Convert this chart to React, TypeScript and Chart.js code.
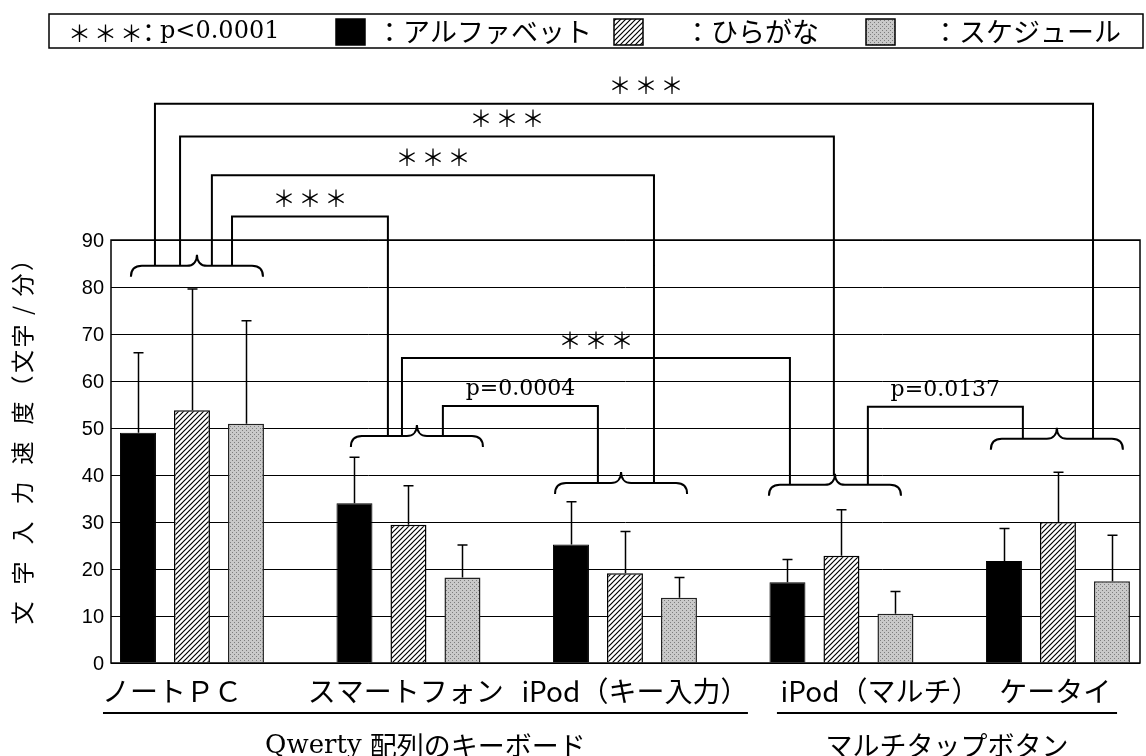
import React, { useEffect, useRef } from "react";
import { Chart, registerables } from "chart.js";

Chart.register(...registerables);

// ---------- data ----------
const categories = ["ノートＰＣ", "スマートフォン", "iPod（キー入力）", "iPod（マルチ）", "ケータイ"];
const seriesNames = ["アルファベット", "ひらがな", "スケジュール"];
const alphabetMeans = [49.0, 34.0, 25.2, 17.2, 21.7];
const hiraganaMeans = [53.8, 29.4, 19.1, 22.8, 30.0];
const scheduleMeans = [50.9, 18.2, 13.9, 10.5, 17.4];
const alphabetSD = [17.0, 9.8, 9.1, 4.8, 6.9];
const hiraganaSD = [25.8, 8.3, 8.9, 9.8, 10.6];
const scheduleSD = [21.9, 6.9, 4.3, 4.7, 9.8];
const yTicks = [0, 10, 20, 30, 40, 50, 60, 70, 80, 90];
const yTitleMain = ["文", "字", "入", "力", "速", "度"];
const yTitleUnit = ["（", "文", "字", "/", "分", "）"];
const groupLabels = ["Qwerty", "配列のキーボード", "マルチタップボタン"];
const legendStars = "＊＊＊";
const legendP = "p<0.0001";

// significance braces (category units / value units)
const braceCenters = [0.023, 1.039, 1.982, 2.97, 3.995];
const braceLevels = [84.5, 48.3, 38.3, 37.9, 47.7];
// comparison brackets
const cmpFromGroup = [0, 0, 0, 0, 1, 1, 3];
const cmpToGroup = [4, 3, 2, 1, 3, 2, 4];
const cmpFromX = [-0.171, -0.055, 0.092, 0.185, 0.97, 1.159, 3.122];
const cmpToX = [4.162, 2.965, 2.134, 0.905, 2.762, 1.875, 3.838];
const cmpTop = [119.0, 112.0, 103.8, 95.0, 64.9, 54.7, 54.5];
const cmpLabels = ["＊＊＊", "＊＊＊", "＊＊＊", "＊＊＊", "＊＊＊", "p=0.0004", "p=0.0137"];
const cmpLabelX = [2.097, null, null, null, null, null, null];

const CJK = "'Noto Sans CJK JP', 'Noto Sans', sans-serif";
const SERIF = "'DejaVu Serif', 'Liberation Serif', serif";

function makeHatch(): CanvasPattern {
  const c = document.createElement("canvas");
  c.width = 5;
  c.height = 5;
  const g = c.getContext("2d")!;
  g.fillStyle = "#fff";
  g.fillRect(0, 0, 5, 5);
  g.strokeStyle = "#000";
  g.lineWidth = 1.2;
  g.beginPath();
  g.moveTo(-1, 6);
  g.lineTo(6, -1);
  g.moveTo(-1, 1);
  g.lineTo(1, -1);
  g.moveTo(4, 6);
  g.lineTo(6, 4);
  g.stroke();
  return g.createPattern(c, "repeat")!;
}

function makeDots(): CanvasPattern {
  const c = document.createElement("canvas");
  c.width = 4;
  c.height = 4;
  const g = c.getContext("2d")!;
  g.fillStyle = "#c9c9c9";
  g.fillRect(0, 0, 4, 4);
  g.fillStyle = "#7d7d7d";
  g.fillRect(0, 0, 1, 1);
  g.fillRect(2, 2, 1, 1);
  return g.createPattern(c, "repeat")!;
}

export default function App() {
  const ref = useRef<HTMLCanvasElement | null>(null);

  useEffect(() => {
    const canvas = ref.current;
    if (!canvas) return;
    const hatch = makeHatch();
    const dots = makeDots();
    const sds = [alphabetSD, hiraganaSD, scheduleSD];

    const annot = {
      id: "annot",
      afterDraw(chart: any) {
        const ctx: any = chart.ctx;
        const xs = chart.scales.x;
        const ys = chart.scales.y;
        const area = chart.chartArea;
        ctx.save();

        const spaced = (txt: string, x: number, y: number, ls: number) => {
          ctx.letterSpacing = `${ls}px`;
          ctx.fillText(txt, x, y);
          ctx.letterSpacing = "0px";
        };

        // error bars
        ctx.strokeStyle = "#000";
        ctx.lineWidth = 1.5;
        chart.data.datasets.forEach((ds: any, di: number) => {
          const meta = chart.getDatasetMeta(di);
          meta.data.forEach((bar: any, i: number) => {
            const x = Math.round(bar.x) + 0.5;
            const y0 = ys.getPixelForValue(ds.data[i].y);
            const y1 = ys.getPixelForValue(ds.data[i].y + sds[di][i]);
            ctx.beginPath();
            ctx.moveTo(x, y0);
            ctx.lineTo(x, y1);
            ctx.moveTo(x - 5, y1);
            ctx.lineTo(x + 5, y1);
            ctx.stroke();
          });
        });

        // plot border
        ctx.lineWidth = 1.5;
        ctx.strokeRect(area.left, area.top, area.right - area.left, area.bottom - area.top);

        // y tick labels
        ctx.fillStyle = "#000";
        ctx.font = `20px 'Liberation Sans', Arial, sans-serif`;
        ctx.textAlign = "right";
        ctx.textBaseline = "middle";
        yTicks.forEach((v) => ctx.fillText(String(v), area.left - 7, ys.getPixelForValue(v) + 1));

        // y title
        ctx.font = `23px ${CJK}`;
        ctx.textAlign = "center";
        const yBase = ys.getPixelForValue(0) - 50;
        const drawRot = (ch: string, y: number) => {
          ctx.save();
          ctx.translate(22, y);
          ctx.rotate(-Math.PI / 2);
          ctx.fillText(ch, 0, 0);
          ctx.restore();
        };
        yTitleMain.forEach((ch, i) => drawRot(ch, yBase - i * 40));
        yTitleUnit.forEach((ch, i) => drawRot(ch, yBase - 226 - i * 25.5));

        // braces
        const TIPW = 10, TIPH = 11, CURL = 11;
        const braceHalf = 0.305;
        ctx.lineWidth = 2;
        braceCenters.forEach((c, gi) => {
          const L = xs.getPixelForValue(c - braceHalf);
          const R = xs.getPixelForValue(c + braceHalf);
          const T = xs.getPixelForValue(c);
          const Y = ys.getPixelForValue(braceLevels[gi]);
          ctx.beginPath();
          ctx.moveTo(L, Y + CURL);
          ctx.quadraticCurveTo(L, Y, L + CURL, Y);
          ctx.lineTo(T - TIPW, Y);
          ctx.bezierCurveTo(T - 4, Y, T, Y - 4, T, Y - TIPH);
          ctx.bezierCurveTo(T, Y - 4, T + 4, Y, T + TIPW, Y);
          ctx.lineTo(R - CURL, Y);
          ctx.quadraticCurveTo(R, Y, R, Y + CURL);
          ctx.stroke();
        });
        const braceTopAt = (gi: number, px: number) => {
          const T = xs.getPixelForValue(braceCenters[gi]);
          const Y = ys.getPixelForValue(braceLevels[gi]);
          const d = Math.abs(px - T);
          return d < TIPW ? Y - TIPH * (1 - d / TIPW) : Y;
        };

        // comparison brackets
        cmpTop.forEach((top, k) => {
          const x1 = xs.getPixelForValue(cmpFromX[k]);
          const x2 = xs.getPixelForValue(cmpToX[k]);
          const yt = ys.getPixelForValue(top);
          ctx.beginPath();
          ctx.moveTo(x1, braceTopAt(cmpFromGroup[k], x1));
          ctx.lineTo(x1, yt);
          ctx.lineTo(x2, yt);
          ctx.lineTo(x2, braceTopAt(cmpToGroup[k], x2));
          ctx.stroke();
          const lx = cmpLabelX[k] != null ? xs.getPixelForValue(cmpLabelX[k]) : (x1 + x2) / 2;
          const lab = cmpLabels[k];
          ctx.textBaseline = "middle";
          if (lab.startsWith("p")) {
            ctx.font = `22px ${SERIF}`;
            ctx.fillText(lab, lx, yt - 17);
          } else {
            ctx.font = `23px ${CJK}`;
            spaced(lab, lx + 1.5, yt - 18, 3);
          }
        });

        // category labels & underlines
        const catCenters = [-0.092, 0.988, 2.046, 3.178, 3.987];
        ctx.font = `28px ${CJK}`;
        ctx.textAlign = "center";
        ctx.textBaseline = "middle";
        categories.forEach((lab, i) => ctx.fillText(lab, xs.getPixelForValue(catCenters[i]), area.bottom + 28));
        const under = [[-0.411, 2.568], [2.702, 4.273]];
        ctx.lineWidth = 2;
        const uy = area.bottom + 50;
        under.forEach(([a, b]) => {
          ctx.beginPath();
          ctx.moveTo(xs.getPixelForValue(a), uy);
          ctx.lineTo(xs.getPixelForValue(b), uy);
          ctx.stroke();
        });
        // group labels
        const gy = area.bottom + 83;
        {
          ctx.textAlign = "left";
          ctx.font = `26px ${SERIF}`;
          const w1 = ctx.measureText(groupLabels[0] + " ").width;
          ctx.font = `27px ${CJK}`;
          const w2 = ctx.measureText(groupLabels[1]).width;
          const cx = (xs.getPixelForValue(under[0][0]) + xs.getPixelForValue(under[0][1])) / 2;
          const sx = cx - (w1 + w2) / 2;
          ctx.font = `26px ${SERIF}`;
          ctx.fillText(groupLabels[0], sx, gy);
          ctx.font = `27px ${CJK}`;
          ctx.fillText(groupLabels[1], sx + w1, gy);
          ctx.textAlign = "center";
          const cx2 = (xs.getPixelForValue(under[1][0]) + xs.getPixelForValue(under[1][1])) / 2;
          ctx.fillText(groupLabels[2], cx2, gy);
        }

        // legend box
        ctx.lineWidth = 1.5;
        ctx.strokeRect(49, 14, 1094, 34);
        const ly = 32;
        ctx.textAlign = "left";
        ctx.textBaseline = "middle";
        ctx.font = `23px ${CJK}`;
        spaced(legendStars, 68, ly + 1, 3);
        ctx.font = `25px ${CJK}`;
        ctx.fillText("：", 136, ly);
        ctx.font = `24px ${SERIF}`;
        ctx.fillText(legendP, 160, ly);
        const fills = ["#000", hatch, dots];
        const sqX = [336, 614, 866];
        const txtX = [376, 684, 932];
        fills.forEach((f, i) => {
          ctx.fillStyle = f as any;
          ctx.fillRect(sqX[i], 19, 29, 26);
          ctx.strokeStyle = "#000";
          ctx.lineWidth = 1.5;
          ctx.strokeRect(sqX[i], 19, 29, 26);
          ctx.fillStyle = "#000";
          ctx.font = `27px ${CJK}`;
          ctx.fillText("：" + seriesNames[i], txtX[i], ly);
        });

        ctx.restore();
      },
    };

    const chart = new Chart(canvas, {
      type: "bar",
      data: {
        datasets: [
          {
            label: seriesNames[0],
            data: alphabetMeans.map((y, i) => ({ x: i, y })),
            backgroundColor: "#000",
            borderColor: "#000",
            borderWidth: 1,
          },
          {
            label: seriesNames[1],
            data: hiraganaMeans.map((y, i) => ({ x: i, y })),
            backgroundColor: hatch as any,
            borderColor: "#000",
            borderWidth: 1.5,
          },
          {
            label: seriesNames[2],
            data: scheduleMeans.map((y, i) => ({ x: i, y })),
            backgroundColor: dots as any,
            borderColor: "#222",
            borderWidth: 1.5,
          },
        ],
      },
      options: {
        responsive: false,
        animation: false,
        events: [],
        datasets: { bar: { barPercentage: 36 / 54, categoryPercentage: 162 / 216.5 } } as any,
        layout: { padding: { left: 111, top: 240, right: 6, bottom: 93 } },
        plugins: { legend: { display: false }, tooltip: { enabled: false } },
        scales: {
          x: {
            type: "linear",
            offset: false,
            min: -0.374,
            max: 4.379,
            grid: { display: false, offset: false },
            border: { display: false },
            ticks: { display: false },
            afterBuildTicks: (a: any) => {
              a.ticks = categories.map((_, i) => ({ value: i }));
            },
            afterFit: (a: any) => {
              a.height = 0;
            },
          },
          y: {
            min: 0,
            max: 90,
            ticks: { display: false, stepSize: 10 },
            grid: { color: "#000", lineWidth: 1, drawTicks: false },
            border: { display: false },
            afterFit: (a: any) => {
              a.width = 0;
            },
          },
        } as any,
      },
      plugins: [annot],
    });
    return () => chart.destroy();
  }, []);

  return (
    <div style={{ position: "absolute", left: 0, top: 0, width: 1146, height: 756, background: "#fff" }}>
      <canvas ref={ref} width={1146} height={756} style={{ display: "block" }} />
    </div>
  );
}
